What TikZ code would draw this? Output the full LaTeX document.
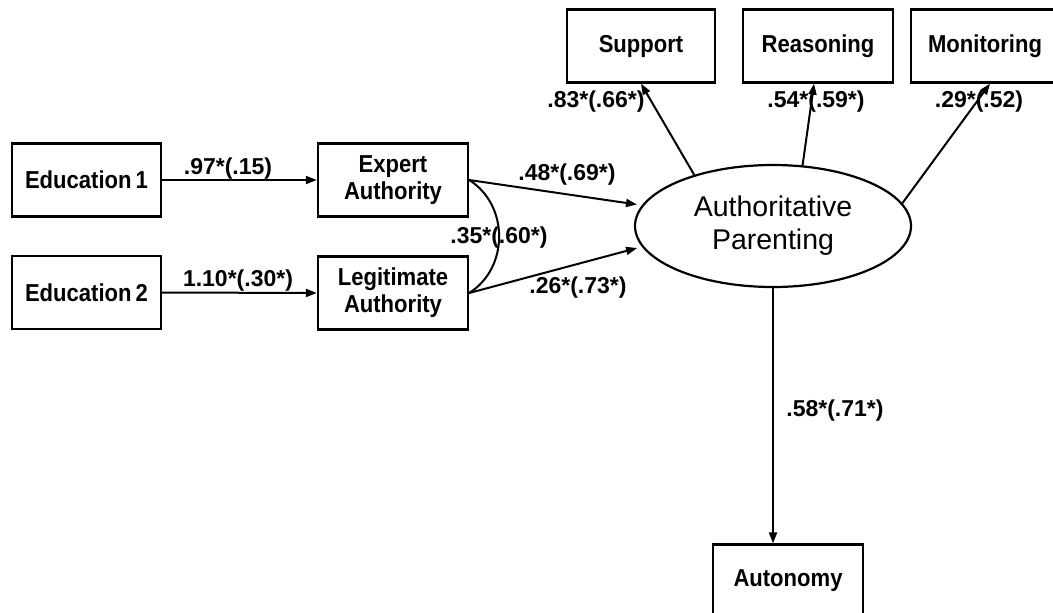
\documentclass[tikz,border=0pt]{standalone}
\usepackage{fontspec}
\setmainfont{Liberation Sans}
\newfontfamily\boxfont[FakeStretch=0.9]{Liberation Sans}
\usetikzlibrary{arrows.meta,shapes.geometric}
\begin{document}
\begin{tikzpicture}[x=1pt,y=-1pt,
  box/.style={draw, line width=2.3pt, minimum width=150pt, minimum height=73pt, inner sep=0pt,
    font=\boxfont\bfseries\fontsize{24.5}{27}\selectfont, align=center},
  lab/.style={inner sep=0pt, font=\bfseries\fontsize{23}{27}\selectfont},
  arr/.style={line width=2pt, -{Triangle[length=11pt,width=8pt]}},
  conn/.style={line width=2pt}
]
\useasboundingbox (0,0) rectangle (1053,613);
\node[box, minimum width=149pt] (edu1) at (86.5,180) {Education\,1};
\node[box, minimum width=149pt] (edu2) at (86.5,292.5) {Education\,2};
\node[box] (expert) at (393,180) {Expert\\Authority};
\node[box] (legit) at (393,293) {Legitimate\\Authority};
\node[box, minimum width=148pt] (support) at (641,46) {Support};
\node[box] (reason) at (818,46) {Reasoning};
\node[box, minimum width=148pt] (monitor) at (985,46) {Monitoring};
\node[box] (auto) at (788,581) {Autonomy};
\node[draw, ellipse, line width=2.2pt, minimum width=276pt, minimum height=122pt, inner sep=0pt,
  font=\fontsize{28.5}{33}\selectfont, align=center] (ap) at (773,226) {Authoritative\\Parenting};

\draw[arr] (edu1.east) -- (expert.west);
\draw[arr] (edu2.east) -- (legit.west);
\draw[arr, shorten >=5pt] (expert.east) -- (ap.171);
\draw[arr, shorten >=5pt] (legit.east) -- (ap.189);
\draw[conn] (expert.east) .. controls +(40,25) and +(40,-25) .. (legit.east);
\draw[arr] (ap.147) -- (support.south);
\draw[arr] (ap.64) -- ([xshift=-4pt]reason.south);
\draw[arr] (ap.10) -- ([xshift=5pt]monitor.south);
\draw[arr] (ap.south) -- (ap.south |- auto.north);

\node[lab] (l1) at (228,169) {.97*(.15)};
\node[lab] (l2) at (238,281) {1.10*(.30*)};
\node[lab] (l3) at (567,175) {.48*(.69*)};
\node[lab] (l4) at (578,288) {.26*(.73*)};
\node[lab] (l5) at (499,238) {.35*(.60*)};
\node[lab] (l6) at (596,102) {.83*(.66*)};
\node[lab] (l7) at (816,102) {.54*(.59*)};
\node[lab] (l8) at (979,102) {.29*(.52)};
\node[lab] (l9) at (835,411) {.58*(.71*)};
\end{tikzpicture}
\end{document}
